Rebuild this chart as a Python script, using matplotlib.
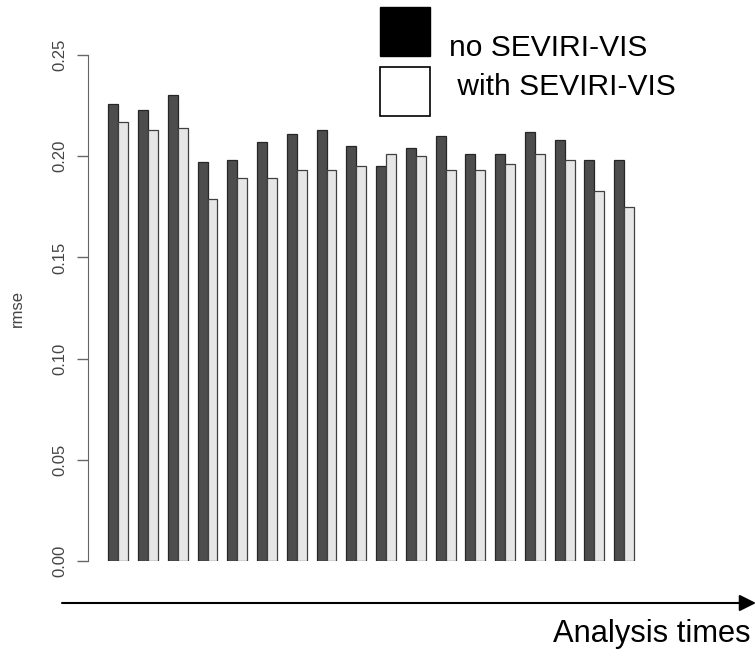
import matplotlib
matplotlib.use("Agg")
import matplotlib.pyplot as plt
from matplotlib.patches import Rectangle, FancyArrowPatch
import numpy as np

plt.rcParams['font.family'] = ['Liberation Sans', 'DejaVu Sans']

# rmse per analysis time
no_vis = [0.226, 0.223, 0.230, 0.197, 0.198, 0.207, 0.211, 0.213, 0.205,
          0.195, 0.204, 0.210, 0.201, 0.201, 0.212, 0.208, 0.198, 0.198]
with_vis = [0.217, 0.213, 0.214, 0.179, 0.189, 0.189, 0.193, 0.193, 0.195,
            0.201, 0.200, 0.193, 0.193, 0.196, 0.201, 0.198, 0.183, 0.175]
yticks = [0.00, 0.05, 0.10, 0.15, 0.20, 0.25]
labels = ["no SEVIRI-VIS", " with SEVIRI-VIS"]

W, H = 755, 649
fig = plt.figure(figsize=(W / 100, H / 100), dpi=100)

# R-style beside barplot: space c(0,1), bar width 1
n = len(no_vis)
x0 = np.arange(n) * 3 + 1
ax = fig.add_axes([88.3 / W, 88 / H, 566.8 / W, 506 / H])
ax.bar(x0, no_vis, width=1, align='edge', color='#4d4d4d',
       edgecolor='#262626', linewidth=0.9)
ax.bar(x0 + 1, with_vis, width=1, align='edge', color='#e6e6e6',
       edgecolor='#404040', linewidth=0.9)
ax.set_xlim(-1.02, 56.12)
ax.set_ylim(0, 0.25)

for s in ['top', 'right', 'bottom']:
    ax.spines[s].set_visible(False)
ax.spines['left'].set_bounds(0, 0.25)
ax.spines['left'].set_color('#666666')
ax.set_xticks([])
ax.set_yticks(yticks)
ax.set_yticklabels(["%.2f" % v for v in yticks])
ax.tick_params(axis='y', length=8, width=1, color='#666666', pad=7,
               labelsize=12, labelcolor='#444444', labelrotation=90)
for t in ax.get_yticklabels():
    t.set_va('center')
ax.patch.set_visible(False)

fig.text(17 / W, 1 - 308 / H, "rmse", rotation=90, ha='center', va='center',
         fontsize=12, color='#444444')

# legend drawn like the R one: big squares and large text
fig.add_artist(Rectangle((380 / W, 1 - 56 / H), 50 / W, 49 / H,
                         transform=fig.transFigure, facecolor='black',
                         edgecolor='black', linewidth=1))
fig.add_artist(Rectangle((380 / W, 1 - 116 / H), 50 / W, 49 / H,
                         transform=fig.transFigure, facecolor='white',
                         edgecolor='black', linewidth=1.2))
fig.text(449 / W, 1 - 56 / H, labels[0], fontsize=21.6, va='baseline', ha='left')
fig.text(449 / W, 1 - 95 / H, labels[1], fontsize=21.6, va='baseline', ha='left')

# time arrow
arr = FancyArrowPatch((62 / W, 1 - 603 / H), (756 / W, 1 - 603 / H),
                      transform=fig.transFigure,
                      arrowstyle='-|>,head_length=1.0,head_width=0.5',
                      mutation_scale=10, linewidth=1.5, color='black',
                      shrinkA=0, shrinkB=0)
fig.add_artist(arr)
fig.text(553 / W, 1 - 642 / H, "Analysis times", fontsize=22.2,
         va='baseline', ha='left')

fig.savefig("out.png", dpi=100)
